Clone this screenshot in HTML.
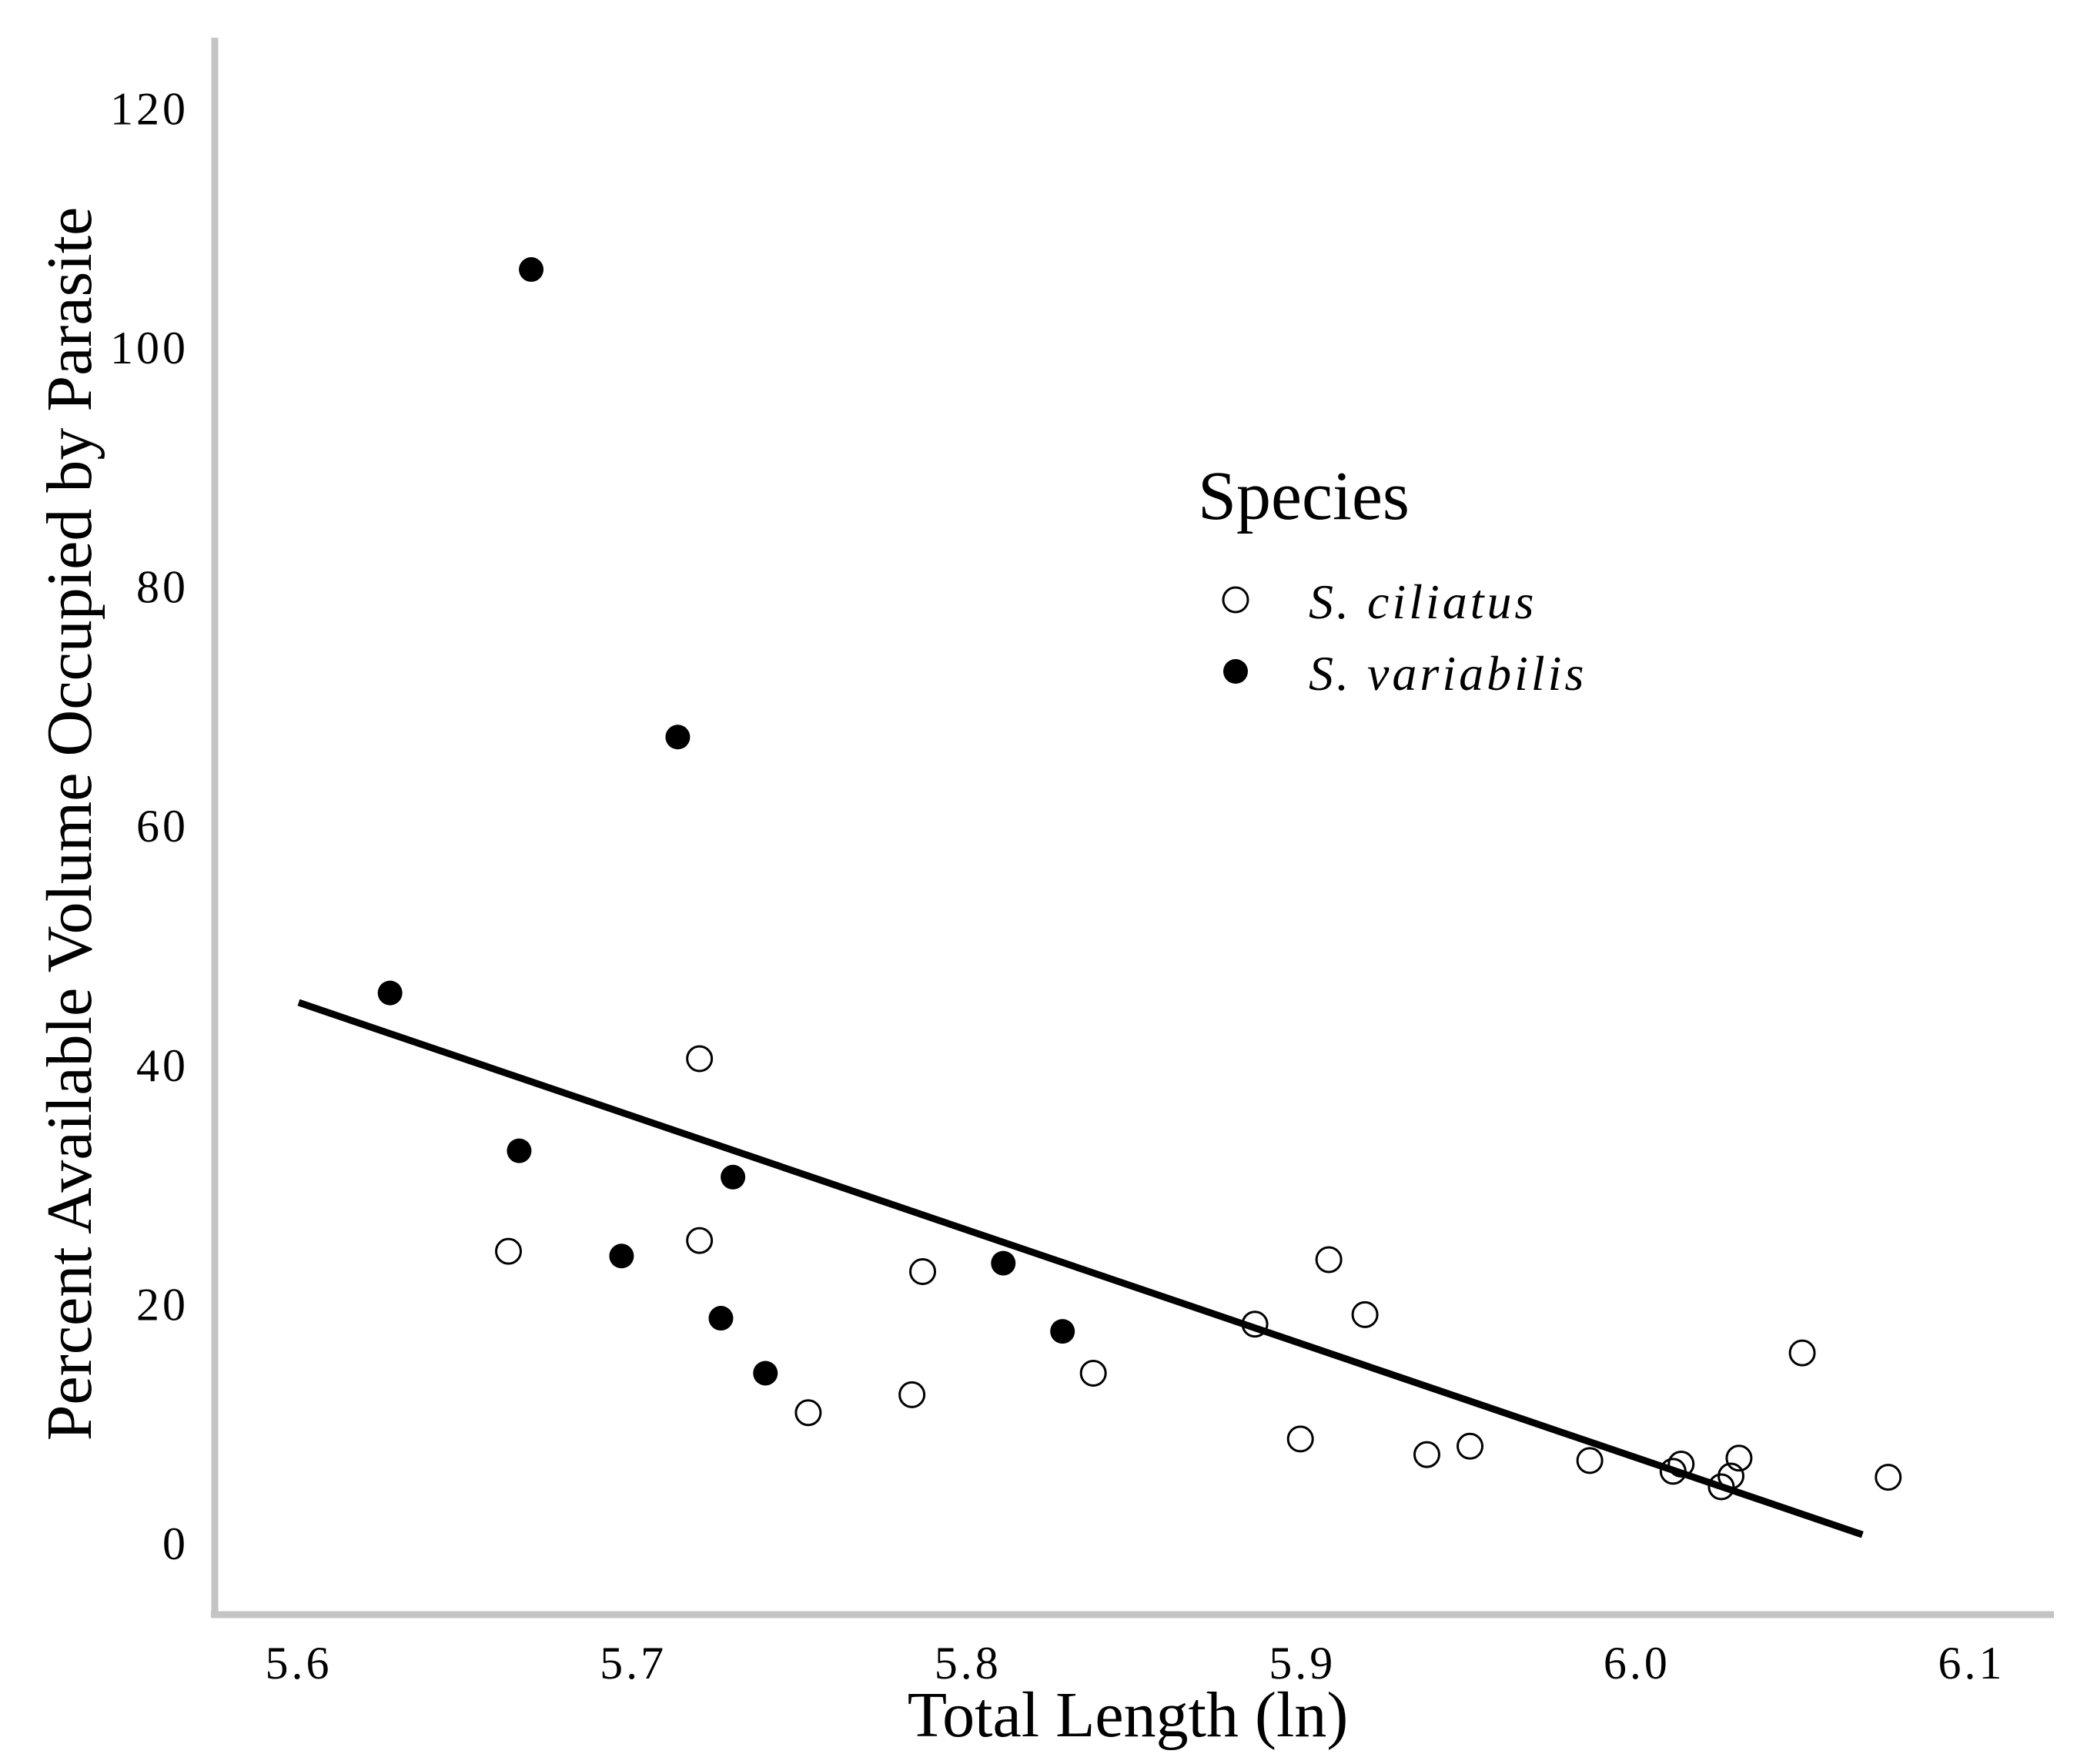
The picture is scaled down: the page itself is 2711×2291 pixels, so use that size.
<!DOCTYPE html>
<html><head><meta charset="utf-8"><style>
html,body{margin:0;padding:0;background:#fff;}
svg{display:block;}
text{font-family:"Liberation Serif",serif;fill:#000;}
</style></head><body>
<svg id="chart" width="2711" height="2291" viewBox="0 0 2711 2291">
<g id="axes"></g>
<g id="marks"></g>
<g>
<text x="1556" y="674" font-size="90">Species</text>
<circle cx="1605" cy="779" r="16" fill="#fff" stroke="#000" stroke-width="3"/>
<text x="1700" y="803" font-size="64" font-style="italic" letter-spacing="4">S. ciliatus</text>
<circle cx="1605" cy="872" r="16" fill="#000"/>
<text x="1700" y="896" font-size="64" font-style="italic" letter-spacing="4">S. variabilis</text>
</g>
<text x="1465" y="2255" font-size="84" text-anchor="middle">Total Length (ln)</text>
<text transform="translate(118,1070) rotate(-90)" font-size="84" text-anchor="middle">Percent Available Volume Occupied by Parasite</text>
</svg>
<script>
const xTicks=[5.6,5.7,5.8,5.9,6.0,6.1];
const xTickLabels=["5.6","5.7","5.8","5.9","6.0","6.1"];
const yTicks=[0,20,40,60,80,100,120];
const ciliatusX=[5.6627,5.7198,5.7198,5.7523,5.7833,5.7865,5.8375,5.8858,5.8994,5.9079,5.9187,5.9372,5.9501,5.9859,6.0108,6.0132,6.0252,6.0281,6.0305,6.0494,6.0751];
const ciliatusY=[24.4,40.5,25.3,10.9,12.4,22.7,14.2,18.3,8.7,23.7,19.1,7.4,8.1,6.9,6.0,6.6,4.7,5.6,7.1,15.9,5.5];
const variabilisX=[5.6695,5.6273,5.6659,5.7133,5.7298,5.6965,5.7262,5.7395,5.8106,5.8283];
const variabilisY=[106.5,46.0,32.8,67.4,30.6,24.0,18.8,14.2,23.4,17.7];
const fitX=[5.6,6.0674];
const fitY=[45.2,0.7];

const NS="http://www.w3.org/2000/svg";
function sx(v){return 388+(v-5.6)*4346;}
function sy(v){return 2004-v*15.53;}
function mk(tag,attrs,parent){const e=document.createElementNS(NS,tag);for(const k in attrs)e.setAttribute(k,attrs[k]);parent.appendChild(e);return e;}
const axes=document.getElementById('axes');
const marks=document.getElementById('marks');
let a=mk('line',{x1:279,y1:49,x2:279,y2:2097,stroke:'#c4c4c4','stroke-width':9},axes);


a=mk('line',{x1:274,y1:2097,x2:2668,y2:2097,stroke:'#c4c4c4','stroke-width':9},axes);


xTicks.forEach((t,i)=>{
  const e=mk('text',{x:sx(t),y:2180,'font-size':60,'letter-spacing':4,'text-anchor':'middle'},axes);
  e.textContent=xTickLabels[i];
  
  
});
yTicks.forEach(t=>{
  const e=mk('text',{x:245,y:sy(t)+21,'font-size':60,'letter-spacing':4,'text-anchor':'end'},axes);
  e.textContent=String(t);
  
  
});
const fl=mk('line',{x1:sx(fitX[0]),y1:sy(fitY[0]),x2:sx(fitX[1]),y2:sy(fitY[1]),stroke:'#000','stroke-width':9},marks);


ciliatusX.forEach((x,i)=>{
  const c=mk('circle',{cx:sx(x),cy:sy(ciliatusY[i]),r:16,fill:'none',stroke:'#000','stroke-width':3},marks);
  
  
});
variabilisX.forEach((x,i)=>{
  const c=mk('circle',{cx:sx(x),cy:sy(variabilisY[i]),r:16,fill:'#000'},marks);
  
  
});
</script>
</body></html>
